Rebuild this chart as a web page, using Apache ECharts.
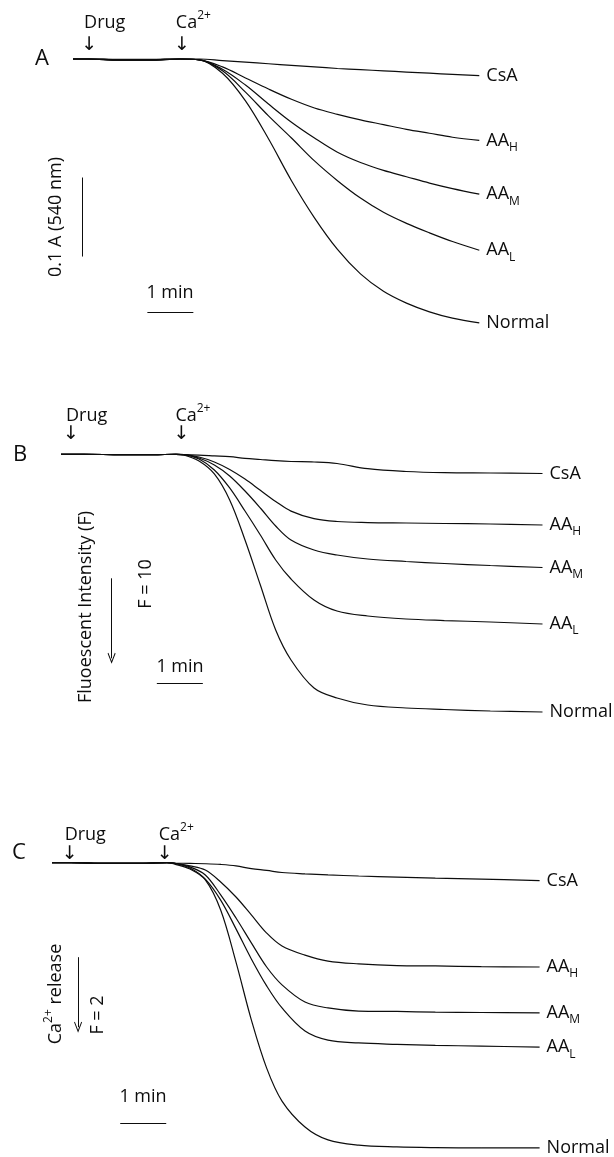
<!DOCTYPE html>
<html>
<head>
<meta charset="utf-8">
<script src="https://cdn.jsdelivr.net/npm/echarts@6/dist/echarts.min.js"></script>
<style>
  html, body { margin: 0; padding: 0; background: #fff; }
  #chart { width: 614px; height: 1157px; }
</style>
</head>
<body>
<div id="chart"></div>
<script>
// time in seconds after start of trace
const timeA = [0, 20, 60, 100, 140, 165, 195, 225, 255, 285, 315, 345, 375, 405, 435, 465, 495, 530];
const timeB = [0, 30, 80, 120, 150, 160, 180, 200, 220, 240, 260, 280, 300, 330, 360, 400, 450, 500, 560, 628];
const timeC = [0, 25, 70, 110, 150, 160, 180, 200, 220, 240, 260, 280, 300, 330, 360, 400, 450, 500, 560, 636];

// A: change in absorbance at 540 nm (mA)
const csaA    = [0, 0, -0.5, -0.5, 0, 0, -2, -4, -6, -8, -10, -12, -13.5, -15, -16.5, -18, -19.5, -21];
const aahA    = [0, 0, -1, -1, 0, -1, -10, -24, -38, -51, -62, -70, -77, -83, -89, -94, -99, -103];
const aamA    = [0, 0, -1, -1, 0, -1, -13, -33, -57, -80, -100, -118, -131, -141, -149, -157, -164, -171];
const aalA    = [0, 0, -1.5, -1.5, 0, -1, -15, -42, -72, -100, -129, -154, -176, -194, -208, -220, -231, -242];
const normalA = [0, 0, -1.5, -1.5, 0, -1, -18, -53, -101, -154, -201, -241, -272, -294, -309, -320, -328, -334];

// B: fluorescent intensity change (F)
const csaB    = [0, 0, -0.05, -0.05, 0, -0.05, -0.1, -0.2, -0.3, -0.5, -0.65, -0.8, -0.9, -0.96, -1.15, -1.8, -2.15, -2.3, -2.34, -2.4];
const aahB    = [0, 0, -0.05, -0.05, 0, -0.03, -0.34, -0.96, -1.9, -3.1, -4.5, -5.9, -7.1, -8.05, -8.4, -8.53, -8.59, -8.65, -8.71, -8.84];
const aamB    = [0, 0, -0.05, -0.05, 0, -0.03, -0.46, -1.34, -2.71, -4.59, -6.71, -8.96, -10.71, -11.96, -12.59, -13.09, -13.4, -13.65, -13.9, -14.15];
const aalB    = [0, 0, -0.05, -0.05, 0, -0.03, -0.59, -1.96, -4.21, -7.09, -10.09, -13.21, -15.59, -18.21, -19.59, -20.21, -20.59, -20.78, -20.96, -21.21];
const normalB = [0, 0, -0.05, -0.05, 0, -0.09, -0.84, -2.46, -5.71, -10.71, -16.34, -21.96, -25.71, -29.21, -30.46, -31.34, -31.71, -31.9, -32.09, -32.21];

// C: Ca2+ release (F)
const csaC    = [0, 0, -0.01, -0.01, 0, -0.01, -0.02, -0.03, -0.05, -0.09, -0.17, -0.22, -0.28, -0.32, -0.35, -0.38, -0.41, -0.44, -0.47, -0.51];
const aahC    = [0, 0, -0.02, -0.02, 0, -0.02, -0.09, -0.21, -0.55, -0.98, -1.49, -2.01, -2.38, -2.64, -2.81, -2.89, -2.94, -2.95, -2.97, -2.98];
const aamC    = [0, 0, -0.02, -0.02, 0, -0.02, -0.12, -0.35, -0.92, -1.58, -2.29, -2.98, -3.49, -3.98, -4.15, -4.24, -4.25, -4.27, -4.28, -4.29];
const aalC    = [0, 0, -0.02, -0.02, 0, -0.02, -0.15, -0.47, -1.07, -1.89, -2.75, -3.52, -4.15, -4.81, -5.07, -5.15, -5.19, -5.22, -5.24, -5.27];
const normalC = [0, 0, -0.02, -0.02, 0, -0.04, -0.18, -0.49, -1.35, -2.84, -4.49, -5.87, -6.81, -7.55, -7.92, -8.07, -8.12, -8.14, -8.15, -8.15];

const curveNames = ['CsA', 'AA_H', 'AA_M', 'AA_L', 'Normal'];
const curveLabels = ['{m|CsA}', '{m|AA}{sub|H}', '{m|AA}{sub|M}', '{m|AA}{sub|L}', '{m|Normal}'];

// drug and Ca2+ addition times (s), per panel
const drugTimes = [21, 13, 23];
const caTimes = [142, 157, 147];

// scale bars: vertical size per panel, time bar = 1 min
const scaleSizes = [100, 10, 2];
const scaleTime = 60;

const FONT = "'Open Sans', 'DejaVu Sans', sans-serif";
const INK = '#0d0d0d';

const rich = {
  m: { fontSize: 18, fontFamily: FONT, color: INK, lineHeight: 26 },
  sub: { fontSize: 12, fontFamily: FONT, color: INK, lineHeight: 12, verticalAlign: 'bottom' },
  sup: { fontSize: 12, fontFamily: FONT, color: INK, lineHeight: 12, verticalAlign: 'top' }
};

const panels = [
  {
    time: timeA, curves: [csaA, aahA, aamA, aalA, normalA],
    grid: { left: 73, top: 51.1, width: 406.3, height: 280.5 },
    xMax: 530, yMin: -345, yMax: 10,
    vBar: { t: 12, y: -150, arrow: false },
    tBar: { t: 97, y: -320 },
    labelY: 22.5, arrowY: 45
  },
  {
    time: timeB, curves: [csaB, aahB, aamB, aalB, normalB],
    grid: { left: 61, top: 446.3, width: 481.5, height: 280 },
    xMax: 628, yMin: -34, yMax: 1,
    vBar: { t: 66, y: -15.5, arrow: true },
    tBar: { t: 125, y: -28.6 },
    labelY: 416, arrowY: 434
  },
  {
    time: timeC, curves: [csaC, aahC, aamC, aalC, normalC],
    grid: { left: 52, top: 855.7, width: 487.6, height: 297.5 },
    xMax: 636, yMin: -8.3, yMax: 0.2,
    vBar: { t: 34, y: -2.7, arrow: true },
    tBar: { t: 89, y: -7.44 },
    labelY: 835, arrowY: 854
  }
];

const arrowHead = 'path://M5,0L10,10L9,10.6L5,2.6L1,10.6L0,10Z';

const grids = [], xAxes = [], yAxes = [], series = [];
panels.forEach(function (p, i) {
  grids.push(Object.assign({ containLabel: false }, p.grid));
  xAxes.push({ type: 'value', gridIndex: i, min: 0, max: p.xMax, show: false });
  yAxes.push({ type: 'value', gridIndex: i, min: p.yMin, max: p.yMax, show: false });
  p.curves.forEach(function (vals, k) {
    const s = {
      name: curveNames[k] + ' ' + i,
      type: 'line',
      xAxisIndex: i,
      yAxisIndex: i,
      data: p.time.map(function (t, j) { return [t, vals[j]]; }),
      smooth: 0.35,
      showSymbol: false,
      symbol: 'none',
      silent: true,
      clip: false,
      lineStyle: { color: INK, width: 1.2 },
      endLabel: {
        show: true,
        distance: 7,
        formatter: curveLabels[k],
        rich: rich
      }
    };
    if (k === 0) {
      const vb = p.vBar;
      s.markLine = {
        silent: true,
        animation: false,
        symbol: ['none', 'none'],
        label: { show: false },
        lineStyle: { color: INK, width: 1, type: 'solid' },
        emphasis: { disabled: true },
        data: [
          [
            { coord: [vb.t, vb.y], symbol: 'none' },
            { coord: [vb.t, vb.y - scaleSizes[i]], symbol: vb.arrow ? arrowHead : 'none', symbolSize: [8, 11] }
          ],
          [
            { coord: [p.tBar.t, p.tBar.y], symbol: 'none' },
            { coord: [p.tBar.t + scaleTime, p.tBar.y], symbol: 'none' }
          ]
        ]
      };
    }
    series.push(s);
  });
});

const myChart = echarts.init(document.getElementById('chart'));
myChart.setOption({
  animation: false,
  backgroundColor: '#fff',
  grid: grids,
  xAxis: xAxes,
  yAxis: yAxes,
  series: series
});

// text annotations
function txt(x, y, text, opts) {
  opts = opts || {};
  return {
    type: 'text',
    x: x, y: y,
    rotation: opts.rot || 0,
    silent: true,
    style: {
      text: text,
      rich: rich,
      fill: INK,
      font: (opts.size || 18) + 'px ' + FONT,
      align: opts.align || 'center',
      verticalAlign: 'middle'
    }
  };
}

const graphics = [];
panels.forEach(function (p, i) {
  const dx = myChart.convertToPixel({ gridIndex: i }, [drugTimes[i], 0])[0];
  const cx = myChart.convertToPixel({ gridIndex: i }, [caTimes[i], 0])[0];
  graphics.push(txt(dx - 5, p.labelY, '{m|Drug}', { align: 'left' }));
  graphics.push(txt(dx, p.arrowY, '↓', { size: 19 }));
  graphics.push(txt(cx - 6, p.labelY, '{m|Ca}{sup|2+}', { align: 'left' }));
  graphics.push(txt(cx, p.arrowY, '↓', { size: 19 }));
});

const UP = Math.PI / 2;
graphics.push(txt(42, 59, 'A', { size: 22 }));
graphics.push(txt(56, 217, '{m|0.1 A (540 nm)}', { rot: UP }));
graphics.push(txt(170, 293, '{m|1 min}'));

graphics.push(txt(20, 455, 'B', { size: 22 }));
graphics.push(txt(86, 607, '{m|Fluoescent Intensity (F)}', { rot: UP }));
graphics.push(txt(146, 584, '{m|F = 10}', { rot: UP }));
graphics.push(txt(180, 667, '{m|1 min}'));

graphics.push(txt(19, 853, 'C', { size: 22 }));
graphics.push(txt(56, 994, '{m|Ca}{sup|2+}{m| release}', { rot: UP }));
graphics.push(txt(98, 1015, '{m|F = 2}', { rot: UP }));
graphics.push(txt(143, 1097, '{m|1 min}'));

myChart.setOption({ graphic: graphics });
</script>
</body>
</html>
